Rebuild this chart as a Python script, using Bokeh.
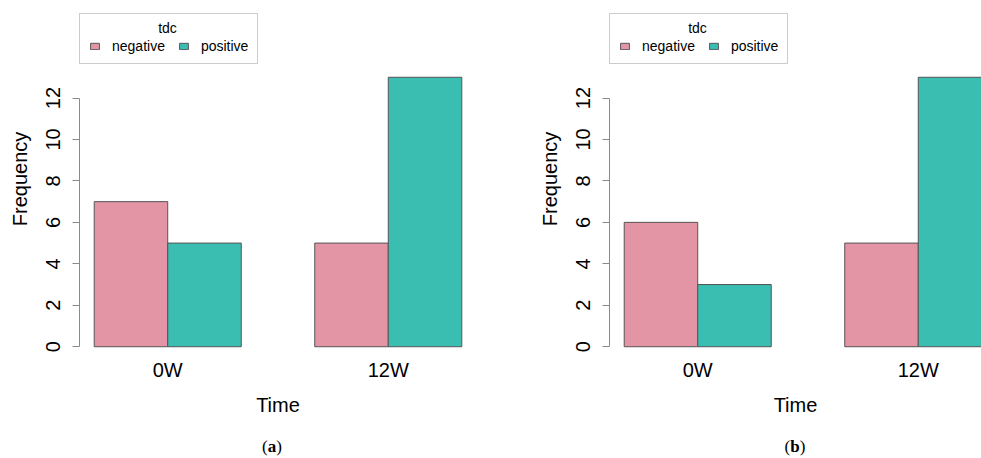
from bokeh.plotting import figure
from bokeh.layouts import row, column
from bokeh.models import ColumnDataSource, FixedTicker, Legend, LegendItem, Range1d, Label, Div
from bokeh.embed import file_html
from bokeh.resources import INLINE

# ---- data ----
times = ["0W", "12W"]
tdc_levels = ["negative", "positive"]
legend_title = "tdc"
freq_a_negative = [7, 5]
freq_a_positive = [5, 13]
freq_b_negative = [6, 5]
freq_b_positive = [3, 13]
y_ticks = [0, 2, 4, 6, 8, 10, 12]
captions = ["a", "b"]

# ---- style ----
colors = ["#E495A5", "#39BEB1"]
FONT = "Liberation Sans"
AXIS_GRAY = "#8a8a8a"
PX_PER_UNIT = 397 / 5.4
LEFT = 79
H = 436
CAP_H = 22
BOTTOM = 79
Y0, Y1 = -0.52, 13.52          # R's extended y limits
R_FRAME_H = 291                 # pixel height of R's plot region
R_FRAME_TOP = 66                # top of R's plot region


def make_panel(neg, pos, width, right_border):
    n = len(tdc_levels)
    frame_w = width - LEFT - right_border
    x0 = 0.8
    x1 = x0 + frame_w / PX_PER_UNIT
    units_per_px = (Y1 - Y0) / R_FRAME_H
    y_end = Y1 + R_FRAME_TOP * units_per_px
    p = figure(width=width, height=H, x_range=Range1d(x0, x1),
               y_range=Range1d(Y0, y_end), output_backend="svg",
               toolbar_location=None, min_border_left=LEFT,
               min_border_right=right_border, min_border_top=0,
               min_border_bottom=BOTTOM, outline_line_color=None)
    p.grid.visible = False
    p.background_fill_color = "white"
    p.border_fill_color = "white"

    renderers = []
    for s, vals in enumerate([neg, pos]):
        xs = [g * (n + 1) + 1 + s + 0.5 for g in range(len(times))]
        src = ColumnDataSource(dict(x=xs, top=vals))
        r = p.vbar(x="x", top="top", bottom=0, width=1, source=src,
                   fill_color=colors[s], line_color="#555555", line_width=1)
        renderers.append(r)

    # y axis
    yax = p.yaxis[0]
    yax.ticker = FixedTicker(ticks=y_ticks)
    yax.bounds = (min(y_ticks), max(y_ticks))
    yax.axis_line_color = AXIS_GRAY
    yax.major_tick_line_color = AXIS_GRAY
    yax.minor_tick_line_color = None
    yax.major_tick_out = 7
    yax.major_tick_in = 0
    yax.major_label_orientation = "vertical"
    yax.major_label_standoff = 12
    yax.major_label_text_font = FONT
    yax.major_label_text_font_size = "20px"
    yax.major_label_text_color = "black"
    yax.axis_label = "Frequency"
    yax.axis_label_text_font = FONT
    yax.axis_label_text_font_size = "20px"
    yax.axis_label_text_font_style = "normal"
    yax.axis_label_text_color = "black"
    yax.axis_label_standoff = 13

    # x axis
    xax = p.xaxis[0]
    centers = [g * (n + 1) + 1 + n / 2 for g in range(len(times))]
    xax.ticker = FixedTicker(ticks=centers)
    xax.major_label_overrides = {c: t for c, t in zip(centers, times)}
    xax.axis_line_color = None
    xax.major_tick_line_color = None
    xax.minor_tick_line_color = None
    xax.major_tick_out = 0
    xax.major_tick_in = 0
    xax.major_label_standoff = 1
    xax.major_label_text_font = FONT
    xax.major_label_text_font_size = "20px"
    xax.major_label_text_color = "black"
    xax.axis_label = "Time"
    xax.axis_label_text_font = FONT
    xax.axis_label_text_font_size = "20px"
    xax.axis_label_text_font_style = "normal"
    xax.axis_label_text_color = "black"
    xax.axis_label_standoff = 10

    frame_h = H - BOTTOM
    legend = Legend(items=[LegendItem(label=lab, renderers=[r])
                           for lab, r in zip(tdc_levels, renderers)],
                    orientation="horizontal", location=(0, frame_h - 64),
                    title=legend_title, title_text_font=FONT,
                    title_text_font_size="13.5px", title_text_font_style="normal",
                    title_text_alpha=0.0, title_standoff=0,
                    label_text_font=FONT, label_text_font_size="14px",
                    label_text_color="black",
                    glyph_width=11, glyph_height=8, label_standoff=12,
                    label_height=14, spacing=13, padding=9, margin=0,
                    border_line_color="#999999", border_line_width=1,
                    background_fill_alpha=0.0)
    p.add_layout(legend)
    p.add_layout(Label(x=88, y=frame_h - 27, x_units="screen", y_units="screen",
                       text=legend_title, text_align="center", text_baseline="middle",
                       text_font=FONT, text_font_size="14px", text_color="black",
                       level="overlay"))
    return p


def make_caption(letter, width, center_x):
    pad = max(0, 2 * center_x - width)
    html = ('<div style="width:%dpx;box-sizing:border-box;padding-left:%dpx;'
            'text-align:center;font-family:\'Liberation Serif\',serif;font-size:17px;'
            'line-height:%dpx;color:black;">(<b>%s</b>)</div>'
            % (width, pad, CAP_H, letter))
    return Div(text=html, width=width, height=CAP_H, margin=0)


pa = make_panel(freq_a_negative, freq_a_positive, 530, 54)
pb = make_panel(freq_b_negative, freq_b_positive, 451, 0)
ca = make_caption(captions[0], 530, 272)
cb = make_caption(captions[1], 451, 265)

layout = column(row(pa, pb), row(ca, cb))
open("out.html", "w").write(file_html(layout, INLINE))
